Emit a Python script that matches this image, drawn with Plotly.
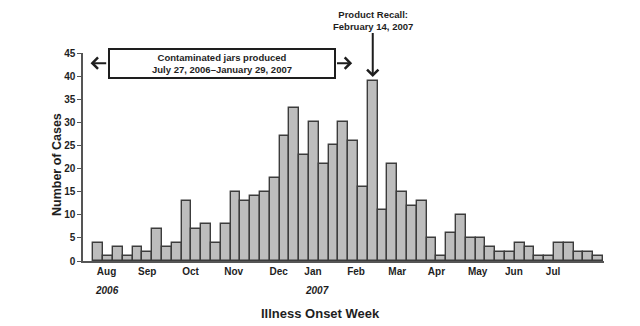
import plotly.graph_objects as go

# Weekly case counts (illness onset week)
cases = [4, 1, 3, 1, 3, 2, 7, 3, 4, 13, 7, 8, 4, 8, 15, 13, 14, 15, 18, 27,
         33, 23, 30, 21, 25, 30, 26, 16, 39, 11, 21, 15, 12, 13, 5, 1, 6, 10,
         5, 5, 3, 2, 2, 4, 3, 1, 1, 4, 4, 2, 2, 1]
weeks = list(range(len(cases)))

month_labels = ["Aug", "Sep", "Oct", "Nov", "Dec", "Jan", "Feb", "Mar", "Apr", "May", "Jun", "Jul"]
month_pos = [0.83, 4.98, 9.4, 13.8, 18.4, 21.9, 26.3, 30.5, 34.5, 38.7, 42.4, 46.4]
year_labels = ["2006", "2007"]
year_pos = [0.83, 22.3]
recall_week = 28
y_ticks = list(range(0, 46, 5))

FONT = "Liberation Sans"
TXT = "#1e1e1e"

fig = go.Figure()
fig.add_trace(go.Bar(
    x=weeks, y=cases, width=1.0,
    marker=dict(color="#bdbdbd", line=dict(color="#3c3c3c", width=1.4)),
))

L, R, T, B, W, H = 83, 36, 53, 65, 640, 326
pw, ph = W - L - R, H - T - B
def px_x(v):
    return (v - L) / pw
def px_y(v):
    return (H - B - v) / ph

ann = []
for lbl, p in zip(year_labels, year_pos):
    ann.append(dict(x=p, y=px_y(290), xref="x", yref="paper", text=f"<i>{lbl}</i>",
                    showarrow=False, xanchor="center", yanchor="middle",
                    font=dict(family=FONT, size=10, color=TXT, weight="bold")))
ann.append(dict(x=px_x(320), y=px_y(313), xref="paper", yref="paper", text="Illness Onset Week",
                showarrow=False, xanchor="center", yanchor="middle",
                font=dict(family=FONT, size=13, color=TXT, weight="bold")))
ann.append(dict(x=px_x(57), y=px_y(165), xref="paper", yref="paper", text="Number of Cases",
                textangle=-90, showarrow=False, xanchor="center", yanchor="middle",
                font=dict(family=FONT, size=12.5, color=TXT, weight="bold")))
# contamination box
ann.append(dict(x=12.57, y=42.8, xref="x", yref="y",
                text="Contaminated jars produced<br>July 27, 2006\u2013January 29, 2007",
                showarrow=False, xanchor="center", yanchor="middle",
                width=222, height=25, bordercolor="#1e1e1e", borderwidth=2,
                borderpad=1, bgcolor="white",
                font=dict(family=FONT, size=9.5, color=TXT, weight="bold")))
# left/right arrows
ann.append(dict(x=-0.8, y=42.8, ax=0.95, ay=42.8, xref="x", yref="y", axref="x", ayref="y",
                text="", showarrow=True, arrowhead=4, arrowsize=1.1, arrowwidth=2, arrowcolor="#1e1e1e"))
ann.append(dict(x=25.9, y=42.8, ax=24.2, ay=42.8, xref="x", yref="y", axref="x", ayref="y",
                text="", showarrow=True, arrowhead=4, arrowsize=1.1, arrowwidth=2, arrowcolor="#1e1e1e"))
# recall
ann.append(dict(x=recall_week, y=cases[recall_week] + 0.8, xref="x", yref="y",
                text="Product Recall:<br>February 14, 2007", showarrow=True,
                ax=0, ay=-57, arrowhead=4, arrowsize=1.1, arrowwidth=2, arrowcolor="#1e1e1e",
                font=dict(family=FONT, size=9.5, color=TXT, weight="bold")))

fig.update_layout(
    width=W, height=H, margin=dict(l=L, r=R, t=T, b=B),
    paper_bgcolor="white", plot_bgcolor="white",
    showlegend=False, bargap=0,
    annotations=ann,
    xaxis=dict(range=[-1.57, 51.6], tickmode="array", tickvals=month_pos, ticktext=month_labels,
               ticks="", showgrid=False, zeroline=False, showline=True, linecolor="#555",
               linewidth=1.5, tickfont=dict(family=FONT, size=10, color=TXT, weight="bold")),
    yaxis=dict(range=[0, 45], tickmode="array", tickvals=y_ticks, ticks="outside", ticklen=4,
               tickcolor="#555", tickwidth=1, showgrid=False, zeroline=False, showline=True,
               linecolor="#555", linewidth=1.5,
               tickfont=dict(family=FONT, size=10, color=TXT, weight="bold")),
)

fig.write_html("out.html")
